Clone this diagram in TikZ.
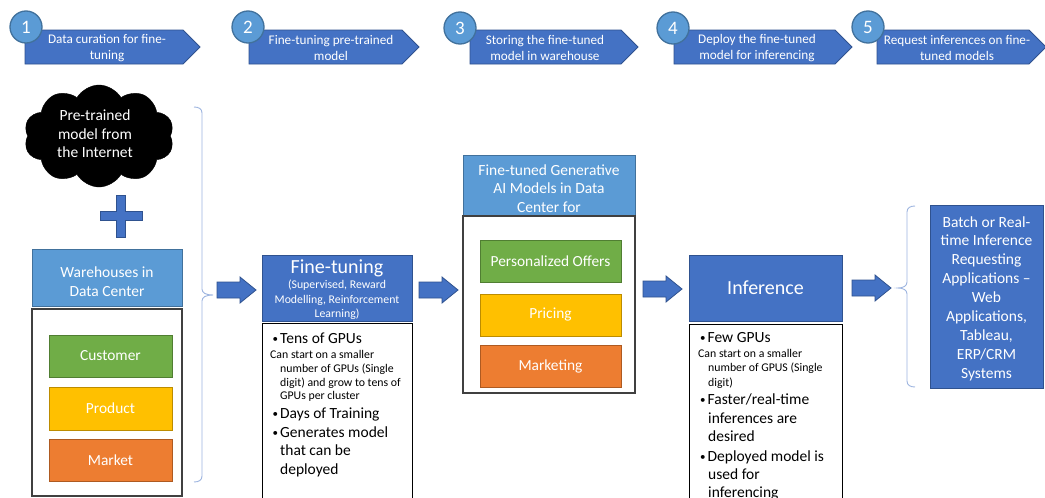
\documentclass[tikz,border=0pt]{standalone}
\usepackage{fontspec}
\setmainfont{Carlito}
\usetikzlibrary{shapes.symbols}
\definecolor{mblue}{HTML}{4472C4}
\definecolor{mblueb}{HTML}{2F528F}
\definecolor{lblue}{HTML}{5B9BD5}
\definecolor{lblueb}{HTML}{41719C}
\definecolor{mgreen}{HTML}{70AD47}
\definecolor{mgreenb}{HTML}{507E32}
\definecolor{mgold}{HTML}{FFC000}
\definecolor{mgoldb}{HTML}{BC8C00}
\definecolor{morange}{HTML}{ED7D31}
\definecolor{morangeb}{HTML}{AE5A21}
\definecolor{cgray}{HTML}{404040}
\definecolor{bracec}{HTML}{9DB5E0}
\newcommand\chevron[5]{%
  \draw[chev] (#2,30) -- ({#3-17},30) -- (#3,47) -- ({#3-17},64) -- (#2,64) -- cycle;
  \node[chevtext] (#1) at (#4,48) {#5};}
\newcommand\blockarrow[3]{%
  \coordinate (#1) at (#2,#3);
  \draw[barr] (#1) ++(0,-8) -- ++(23,0) -- ++(0,-5) -- ++(16,13) -- ++(-16,13) -- ++(0,-5) -- ++(-23,0) -- cycle;}
\newcommand\tline[4]{\node[anchor=base west,inner sep=0pt,font=#1] (#2) at #3 {#4};}
\newcommand\bul{\makebox[7.5pt][l]{\raisebox{1.3pt}{\fontsize{11}{11}\selectfont •}}}
\newcommand\bigf{\fontsize{15.5}{18}\selectfont}
\newcommand\smallf{\fontsize{11.8}{13}\selectfont}
\begin{document}
\begin{tikzpicture}[x=1pt,y=-1pt,
  chev/.style={fill=mblue,draw=mblueb,line width=0.8pt},
  chevtext/.style={text=white,align=center,font=\fontsize{13.2}{16}\selectfont,inner sep=0pt},
  numcirc/.style={circle,fill=lblue,draw=lblueb,line width=1.3pt,minimum size=32pt,inner sep=0pt,text=white,font=\fontsize{19}{19}\selectfont},
  barr/.style={fill=mblue,draw=mblueb,line width=0.8pt},
  lbox/.style={rectangle,fill=lblue,draw=lblueb,line width=1pt,inner sep=0pt},
  dbox/.style={rectangle,fill=mblue,draw=mblueb,line width=1pt,text=white,align=center,inner sep=0pt},
  wtext/.style={text=white,align=center,inner sep=0pt,font=\fontsize{15.5}{19}\selectfont},
  cont/.style={rectangle,fill=white,draw=cgray,line width=1.3pt,inner sep=0pt},
  detbox/.style={rectangle,fill=white,draw=black,line width=1pt,inner sep=0pt},
  cbox/.style={rectangle,line width=1pt,text=white,inner sep=0pt,font=\fontsize{15.4}{17}\selectfont},
  bracest/.style={draw=bracec,line width=0.9pt}
]
\clip (0,0) rectangle (1045,498);
\fill[white] (0,0) rectangle (1045,498);

% header steps
\chevron{s1}{25}{200}{107}{Data curation for fine-\\tuning}
\chevron{s2}{249}{419}{331}{Fine-tuning pre-trained\\model}
\chevron{s3}{470}{638}{545}{Storing the fine-tuned\\model in warehouse}
\chevron{s4}{674}{852}{757}{Deploy the fine-tuned\\model for inferencing}
\chevron{s5}{877}{1046}{957}{Request inferences on fine-\\tuned models}
\node[numcirc] (n1) at (26,27) {1};
\node[numcirc] (n2) at (248,27) {2};
\node[numcirc] (n3) at (460,28) {3};
\node[numcirc] (n4) at (673,28) {4};
\node[numcirc] (n5) at (868,27) {5};

% cloud
\node[cloud,cloud puffs=10,cloud puff arc=120,cloud ignores aspect,minimum width=150pt,minimum height=102pt,
      fill=black,draw=black,inner sep=0pt] (cloud) at (99,136) {};
\node[wtext,font=\fontsize{15.5}{18.5}\selectfont] (cloudt) at (95,134) {Pre-trained\\model from\\the Internet};

% plus
\draw[barr] (116.25,195) -- (125.75,195) -- (125.75,211.25) -- (142,211.25) -- (142,220.75) -- (125.75,220.75)
  -- (125.75,237) -- (116.25,237) -- (116.25,220.75) -- (100,220.75) -- (100,211.25) -- (116.25,211.25) -- cycle;

% warehouses
\node[lbox,minimum width=150pt,minimum height=57pt] (wh) at (107,277.5) {};
\node[wtext] (wht) at (107,282) {Warehouses in\\Data Center};
\node[cont,minimum width=150pt,minimum height=187pt] (whc) at (107,402.5) {};
\node[cbox,fill=mgreen,draw=mgreenb,minimum width=123pt,minimum height=42pt] (cust) at (110.5,356) {Customer};
\node[cbox,fill=mgold,draw=mgoldb,minimum width=123pt,minimum height=43pt] (prod) at (110.5,408.5) {Product};
\node[cbox,fill=morange,draw=morangeb,minimum width=123pt,minimum height=42pt] (mark) at (110.5,460) {Market};

% brace 1
\coordinate (b1t) at (194,107);
\coordinate (b1m) at (213,295);
\coordinate (b1b) at (194,482);
\draw[bracest] (b1t) .. controls (199,107) and (202,109) .. (202,113) -- (202,289)
  .. controls (202,293) and (206,295) .. (b1m) .. controls (206,295) and (202,297) .. (202,301)
  -- (202,476) .. controls (202,480) and (199,482) .. (b1b);

% arrows
\blockarrow{a1}{217}{290}
\blockarrow{a2}{419}{290}
\blockarrow{a3}{643}{289}
\blockarrow{a4}{852}{288}

% fine-tuning
\node[dbox,minimum width=150pt,minimum height=66pt] (ft) at (337,288) {};
\node[text=white,inner sep=0pt,font=\fontsize{20}{22}\selectfont] (fttitle) at (337,268) {Fine-tuning};
\node[text=white,inner sep=0pt,align=center,font=\fontsize{11.8}{14.5}\selectfont] (ftsub) at (337,300) {(Supervised, Reward\\Modelling, Reinforcement\\Learning)};
\node[detbox,minimum width=150pt,minimum height=186pt] (ftd) at (337,416) {};
\tline{\bigf}{fa}{(272.5,343.7)}{\bul Tens of GPUs}
\tline{\smallf}{fb1}{(270,358.5)}{Can start on a smaller}
\tline{\smallf}{fb2}{(280,372)}{number of GPUs (Single}
\tline{\smallf}{fb3}{(280,386)}{digit) and grow to tens of}
\tline{\smallf}{fb4}{(280,399.5)}{GPUs per cluster}
\tline{\bigf}{fc}{(272.5,418.7)}{\bul Days of Training}
\tline{\bigf}{fd1}{(272.5,437.7)}{\bul Generates model}
\tline{\bigf}{fd2}{(280,455.7)}{that can be}
\tline{\bigf}{fd3}{(280,474.7)}{deployed}

% fine-tuned models
\node[lbox,minimum width=172pt,minimum height=61pt] (fm) at (549,185.5) {};
\node[wtext,font=\fontsize{15.5}{18.5}\selectfont] (fmt) at (549,188.5) {Fine-tuned Generative\\AI Models in Data\\Center for};
\node[cont,minimum width=172pt,minimum height=177pt] (fmc) at (549,304.5) {};
\node[cbox,fill=mgreen,draw=mgreenb,minimum width=141pt,minimum height=42pt] (po) at (550.5,261) {Personalized Offers};
\node[cbox,fill=mgold,draw=mgoldb,minimum width=141pt,minimum height=42pt] (pr) at (550.5,315) {Pricing};
\node[cbox,fill=morange,draw=morangeb,minimum width=141pt,minimum height=42pt] (mk) at (550.5,366) {Marketing};

% inference
\node[dbox,minimum width=153pt,minimum height=66pt,font=\fontsize{20}{22}\selectfont] (inf) at (765.5,288) {Inference};
\node[detbox,minimum width=153pt,minimum height=186pt] (infd) at (765.5,417) {};
\tline{\bigf}{ia}{(700,342.7)}{\bul Few GPUs}
\tline{\smallf}{ib1}{(698,357.5)}{Can start on a smaller}
\tline{\smallf}{ib2}{(708,371.5)}{number of GPUS (Single}
\tline{\smallf}{ib3}{(708,386.5)}{digit)}
\tline{\bigf}{ic1}{(700,404.7)}{\bul Faster/real-time}
\tline{\bigf}{ic2}{(708,423.7)}{inferences are}
\tline{\bigf}{ic3}{(708,441.7)}{desired}
\tline{\bigf}{id1}{(700,461.7)}{\bul Deployed model is}
\tline{\bigf}{id2}{(708,479.7)}{used for}
\tline{\bigf}{id3}{(708,497.7)}{inferencing}

% brace 2
\coordinate (b2t) at (915,206);
\coordinate (b2m) at (898,288);
\coordinate (b2b) at (915,387);
\draw[bracest] (b2t) .. controls (910,206) and (907,208) .. (907,212) -- (907,282)
  .. controls (907,286) and (903,288) .. (b2m) .. controls (903,288) and (907,290) .. (907,294)
  -- (907,381) .. controls (907,385) and (910,387) .. (b2b);

% apps
\node[dbox,minimum width=113pt,minimum height=183pt] (apps) at (986.5,296.5) {};
\node[wtext,font=\fontsize{15.5}{18.9}\selectfont] (appst) at (986.5,298.5)
  {Batch or Real-\\time Inference\\Requesting\\Applications –\\Web\\Applications,\\Tableau,\\ERP/CRM\\Systems};
\end{tikzpicture}
\end{document}
